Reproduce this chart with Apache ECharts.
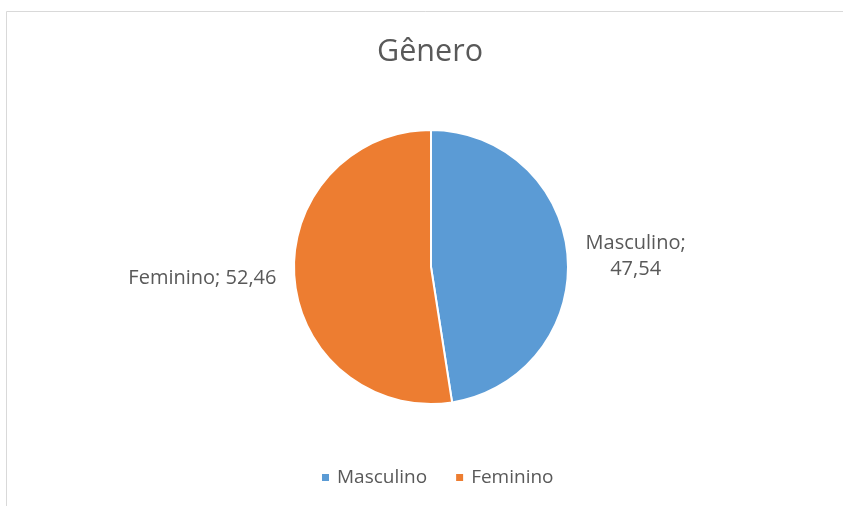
<!DOCTYPE html>
<html>
<head>
<meta charset="utf-8">
<script src="https://cdn.jsdelivr.net/npm/echarts@6/dist/echarts.min.js"></script>
<style>
html,body{margin:0;padding:0;background:#fff;overflow:hidden;}
#chart{width:843px;height:506px;}
</style>
</head>
<body>
<div id="chart"></div>
<script>
const titleText = 'Gênero';
const categories = ['Masculino', 'Feminino'];
const values = [47.54, 52.46];
const colors = ['#5B9BD5', '#ED7D31'];

const fmt = v => v.toFixed(2).replace('.', ',');
const font = '"Open Sans", sans-serif';

const chart = echarts.init(document.getElementById('chart'), null, {renderer: 'canvas'});
chart.setOption({
  animation: false,
  backgroundColor: '#fff',
  graphic: [{
    type: 'rect',
    shape: {x: 6.5, y: 11.5, width: 900, height: 600},
    style: {fill: 'none', stroke: '#d9d9d9', lineWidth: 1},
    silent: true, z: -1
  }],
  title: {
    text: titleText,
    left: 430,
    textAlign: 'center',
    top: 37,
    padding: 0,
    textStyle: {color: '#595959', fontSize: 30.5, fontWeight: 'normal', fontFamily: font}
  },
  legend: {
    top: 468,
    left: 320,
    padding: 0,
    icon: 'rect',
    itemWidth: 9,
    itemHeight: 9,
    itemGap: 27,
    textStyle: {color: '#595959', fontSize: 19, fontFamily: font, padding: [0, 0, 0, 2]},
    data: categories
  },
  series: [{
    type: 'pie',
    center: [431, 267],
    radius: 137,
    startAngle: 90,
    clockwise: true,
    data: categories.map((c, i) => ({
      name: c, value: values[i],
      itemStyle: {color: colors[i]},
      label: i === 0 ? {formatter: '{c|' + c + ';}\n{c|' + fmt(values[i]) + '}'} : {formatter: c + '; ' + fmt(values[i])}
    })),
    itemStyle: {borderColor: '#fff', borderWidth: 2},
    label: {
      show: true,
      position: 'outside',
      color: '#595959',
      fontSize: 20,
      fontFamily: font,
      lineHeight: 26,
      rich: {c: {align: 'center', color: '#595959', fontSize: 20, fontFamily: font, lineHeight: 26}}
    },
    labelLine: {show: false, length: 6, length2: 7},
    emphasis: {disabled: true}
  }]
});
</script>
</body>
</html>
